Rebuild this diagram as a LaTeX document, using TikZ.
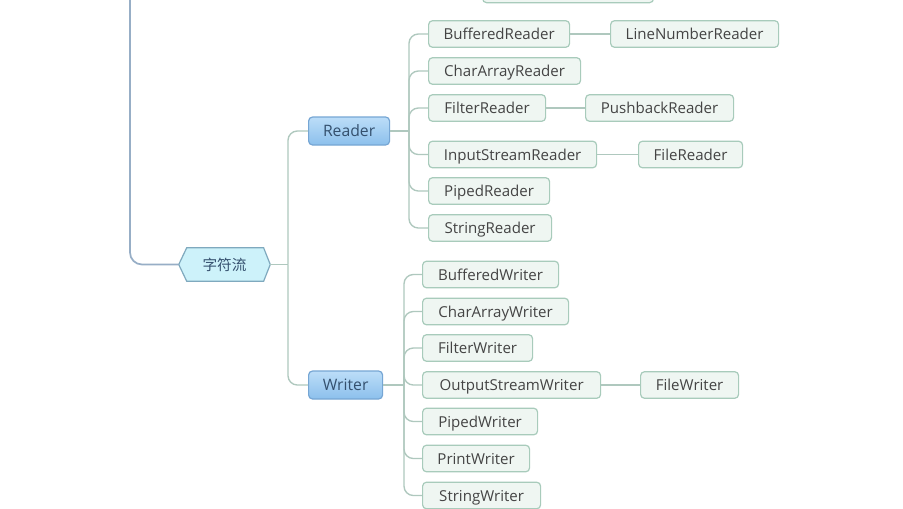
\documentclass[tikz,border=0pt]{standalone}
\usepackage{fontspec}
\setmainfont{Open Sans}
\newfontfamily\cjk{Noto Sans CJK SC}
\begin{document}
\begin{tikzpicture}[x=0.75pt,y=-0.75pt,
  leaf/.style={draw=leafB, fill=leafF, rounded corners=3pt, line width=0.9pt,
    minimum height=20pt, inner sep=0pt, anchor=west, text=txt,
    text height=8.4pt, text depth=0pt,
    font=\fontsize{11.3}{13}\selectfont},
  wd/.style={minimum width=#1*0.75pt},
  cls/.style={draw=clsB, top color=clsT, bottom color=clsD, rounded corners=3pt,
    line width=0.9pt, minimum height=20pt, inner sep=0pt, anchor=west, text=clsX,
    text height=8.6pt, text depth=0pt,
    font=\fontsize{11.8}{13}\selectfont},
  conn/.style={draw=lineC, line width=1pt, rounded corners=7pt},
  outer/.style={draw=outC, line width=1.3pt, rounded corners=9pt}
]
\definecolor{leafB}{HTML}{A8CBBB}
\definecolor{leafF}{HTML}{EFF6F2}
\definecolor{txt}{HTML}{444444}
\definecolor{clsB}{HTML}{76A6D4}
\definecolor{clsT}{HTML}{BCDDF8}
\definecolor{clsD}{HTML}{8CC0EC}
\definecolor{clsX}{HTML}{34506E}
\definecolor{lineC}{HTML}{AFC8BE}
\definecolor{outC}{HTML}{97AEC6}
\definecolor{hexF}{HTML}{CDF2FA}
\definecolor{hexB}{HTML}{7FA9BE}
\useasboundingbox (0,0) rectangle (903,508);
\fill[white] (0,0) rectangle (903,508);

% top cut-off box
\node[leaf, wd=171, minimum height=22pt] (topbox) at (482,-12) {};

% hexagon root
\node[minimum width=91*0.75pt, minimum height=33*0.75pt, inner sep=0pt] (hex) at (224.5,264.5) {};
\draw[fill=hexF, draw=hexB, line width=0.9pt]
  (hex.west) -- ([xshift=6pt]hex.north west) -- ([xshift=-5pt]hex.north east)
  -- (hex.east) -- ([xshift=-5pt]hex.south east) -- ([xshift=6pt]hex.south west) -- cycle;
\node[text=clsX, font=\cjk\fontsize{11}{12}\selectfont] (hexlabel) at (hex.center) {字符流};

\coordinate (topin) at (130,-10);
\draw[outer] (topin) |- (hex.west);

% Reader / Writer
\node[cls, wd=81, minimum height=28*0.75pt] (reader) at (308,131) {Reader};
\node[cls, wd=74, minimum height=28*0.75pt] (writer) at (308,385) {Writer};

\coordinate (t1) at (288,264.5);
\draw[conn] (hex.east) -- (t1);
\draw[conn] (t1) |- (reader.west);
\draw[conn] (t1) |- (writer.west);

% Reader children
\node[leaf, wd=141] (br) at (428,34) {BufferedReader};
\node[leaf, wd=152] (car) at (428,71) {CharArrayReader};
\node[leaf, wd=117] (fr) at (428,108) {FilterReader};
\node[leaf, wd=168] (isr) at (428,154.5) {InputStreamReader};
\node[leaf, wd=121] (pr) at (428,191) {PipedReader};
\node[leaf, wd=123] (sr) at (428,228) {StringReader};

\node[leaf, wd=168] (lnr) at (610,34) {LineNumberReader};
\node[leaf, wd=148] (pbr) at (585,108) {PushbackReader};
\node[leaf, wd=104] (filer) at (638,154.5) {FileReader};

\coordinate (t2) at (409,131);
\draw[conn] (reader.east) -- (t2);
\foreach \c in {br,car,fr,isr,pr,sr} \draw[conn] (t2) |- (\c.west);
\draw[conn] (br.east) -- (lnr.west);
\draw[conn] (fr.east) -- (pbr.west);
\draw[conn] (isr.east) -- (filer.west);

% Writer children
\node[leaf, wd=136] (bw) at (422,274.5) {BufferedWriter};
\node[leaf, wd=146] (caw) at (422,311.5) {CharArrayWriter};
\node[leaf, wd=110] (fw) at (422,348) {FilterWriter};
\node[leaf, wd=178] (osw) at (422,385) {OutputStreamWriter};
\node[leaf, wd=115] (pw) at (422,421.5) {PipedWriter};
\node[leaf, wd=107] (prw) at (422,458.5) {PrintWriter};
\node[leaf, wd=118] (sw) at (422,495.5) {StringWriter};

\node[leaf, wd=98] (filew) at (640,385) {FileWriter};

\coordinate (t3) at (404,385);
\draw[conn] (writer.east) -- (t3);
\foreach \c in {bw,caw,fw,osw,pw,prw,sw} \draw[conn] (t3) |- (\c.west);
\draw[conn] (osw.east) -- (filew.west);
\end{tikzpicture}
\end{document}
